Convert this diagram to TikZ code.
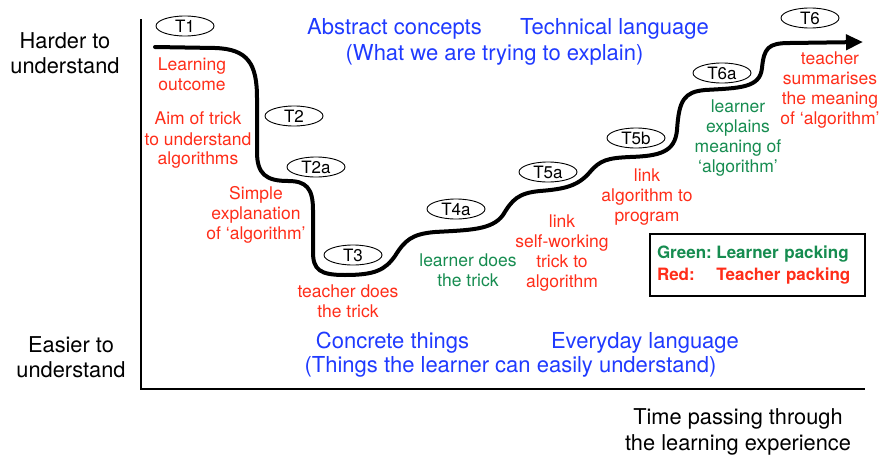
\documentclass[tikz,border=0pt]{standalone}
\usepackage{fontspec}
\setmainfont{TeX Gyre Heros}
\usetikzlibrary{shapes.geometric,arrows.meta}

\definecolor{conceptblue}{RGB}{31,58,255}
\definecolor{teachred}{RGB}{255,45,25}
\definecolor{learngreen}{RGB}{22,140,80}

\tikzset{
  stage/.style={draw, ellipse, line width=0.9pt, minimum width=58pt,
    minimum height=20pt, inner sep=0pt, font=\fontsize{17}{19}\selectfont},
  tnote/.style={align=center, inner sep=0pt, font=\fontsize{17.5}{20}\selectfont},
  teacher/.style={tnote, text=teachred},
  learner/.style={tnote, text=learngreen},
  concept/.style={inner sep=0pt, anchor=base, text=conceptblue,
    font=\fontsize{22}{26}\selectfont},
  axislabel/.style={align=center, inner sep=0pt, font=\fontsize{21.8}{25.5}\selectfont},
  axisline/.style={line width=2.2pt},
  journey/.style={line width=4pt, line cap=round, line join=round,
    -{Triangle[length=17pt,width=15pt]}},
  legendbox/.style={draw, line width=2pt, text width=201pt, inner xsep=7pt,
    minimum height=62pt, font=\fontsize{17}{22}\bfseries\selectfont},
}

\begin{document}
\begin{tikzpicture}[x=1pt,y=-1pt]
\useasboundingbox (0,0) rectangle (884,458);

% axes
\coordinate (ytop) at (141,19);
\coordinate (origin) at (141,389);
\coordinate (xend) at (865,389);
\draw[axisline] (ytop) -- (origin) -- (xend);

% axis labels
\node[axislabel] (harder) at (65,53) {Harder to\\understand};
\node[axislabel] (easier) at (71,357) {Easier to\\understand};
\node[axislabel, font=\fontsize{21.8}{26}\selectfont] (time) at (738,431.5)
  {Time passing through\\the learning experience};

% abstract vs concrete
\node[concept] (abstract) at (394.5,34) {Abstract concepts};
\node[concept] (technical) at (614.5,34) {Technical language};
\node[concept] (explain) at (494.5,60) {(What we are trying to explain)};
\node[concept] (concrete) at (392.5,348) {Concrete things};
\node[concept] (everyday) at (645,348) {Everyday language};
\node[concept] (easily) at (510.5,372) {(Things the learner can easily understand)};

% the learning journey
\coordinate (start) at (155,47);
\coordinate (finish) at (863,42);
\draw[journey] (start) -- (215,48)
  .. controls (248,49) and (257,64) .. (257,98)
  -- (257,152)
  .. controls (257,174) and (266,181) .. (288,181)
  .. controls (306,181) and (313,188) .. (313,210)
  -- (313,252)
  .. controls (313,270) and (320,275) .. (345,275)
  .. controls (375,275) and (385,270) .. (395,256)
  .. controls (405,240) and (412,234) .. (435,232)
  .. controls (470,230) and (492,230) .. (503,215)
  .. controls (512,200) and (518,193) .. (540,191)
  .. controls (565,189) and (578,186) .. (590,172)
  .. controls (600,160) and (608,158) .. (630,157)
  .. controls (660,156) and (675,152) .. (677,130)
  .. controls (679,100) and (684,92) .. (705,90)
  .. controls (740,88) and (760,88) .. (762,68)
  .. controls (764,48) and (768,43) .. (790,43)
  -- (finish);

% stages
\node[stage] (t1) at (185,26) {T1};
\node[stage] (t2) at (294,116) {T2};
\node[stage] (t2a) at (316,167) {T2a};
\node[stage] (t3) at (353,255) {T3};
\node[stage] (t4a) at (456,209) {T4a};
\node[stage] (t5a) at (548,172) {T5a};
\node[stage] (t5b) at (636,138) {T5b};
\node[stage] (t6a) at (722,73) {T6a};
\node[stage] (t6) at (810,18) {T6};

% notes on each stage
\node[teacher] (outcome) at (192,74.7) {Learning\\outcome};
\node[teacher] (aim) at (198,140.5) {Aim of trick\\to understand\\algorithms};
\node[teacher] (simple) at (256,214.5) {Simple\\explanation\\of ‘algorithm’};
\node[teacher] (tdoes) at (348,301.7) {teacher does\\the trick};
\node[learner] (ldoes) at (468,270.7) {learner does\\the trick};
\node[teacher] (linktrick) at (562,253.5) {link\\self-working\\trick to\\algorithm};
\node[teacher] (linkprog) at (647,197.5) {link\\algorithm to\\program};
\node[learner] (lexplains) at (738,138.5) {learner\\explains\\meaning of\\‘algorithm’};
\node[teacher] (tsums) at (830,90.5) {teacher\\summarises\\the meaning\\of ‘algorithm’};

% legend
\node[legendbox] (legend) at (757.5,265) {%
  \begin{tabular}{@{}l@{\hspace{4.5pt}}l@{}}
  \textcolor{learngreen}{Green:} & \textcolor{learngreen}{Learner packing}\\
  \textcolor{teachred}{Red:} & \textcolor{teachred}{Teacher packing}
  \end{tabular}};
\end{tikzpicture}
\end{document}
